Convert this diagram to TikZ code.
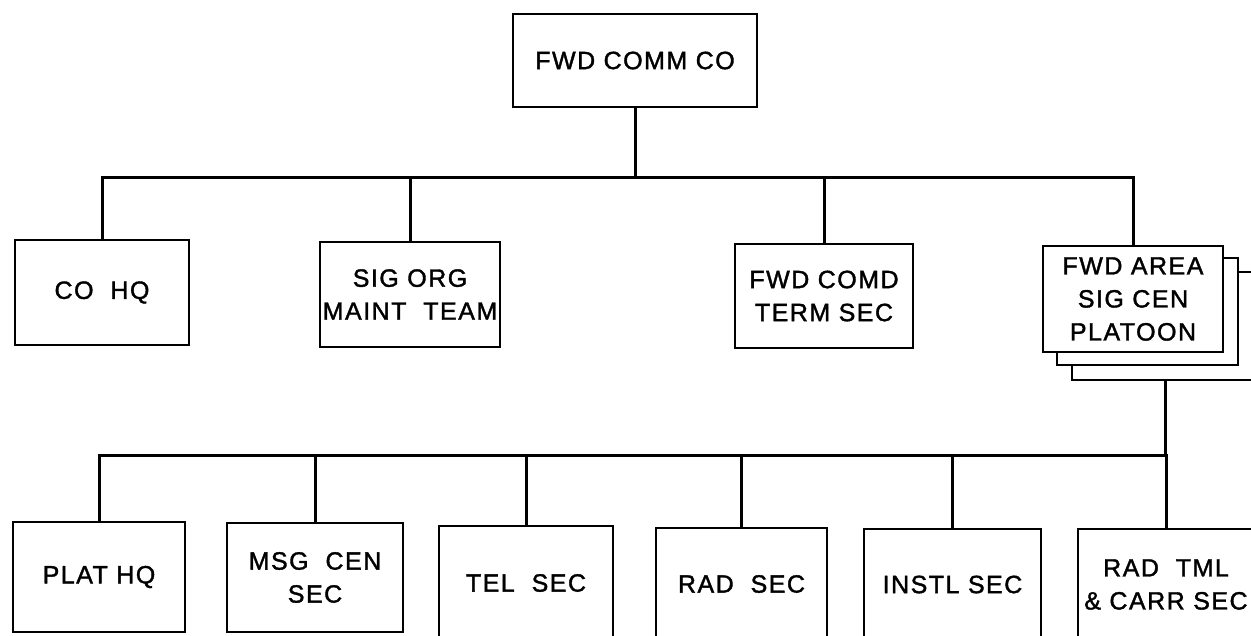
\documentclass[tikz,border=0pt]{standalone}
\usepackage{fontspec}
\setmainfont{Liberation Sans}[LetterSpace=6, FakeBold=1.5]
\usetikzlibrary{positioning,calc}

\begin{document}
\begin{tikzpicture}[x=1pt, y=-1pt,
    unit/.style={rectangle, draw, line width=1.5pt, fill=white, inner sep=0pt, align=center, font=\fontsize{25}{33}\selectfont},
    link/.style={line width=3pt}]
    \clip (0,0) rectangle (1251,635);
    \coordinate (bus1) at (0,177);
    \coordinate (bus2) at (0,455);

    % company
    \node[unit, minimum width=244pt, minimum height=93pt] (comm) at (635,60.5) {FWD COMM CO};

    % sections under the company
    \node[unit, minimum width=174pt, minimum height=105pt] (cohq) at (102,292.5) {CO~~HQ};
    \node[unit, minimum width=180pt, minimum height=105pt] (sigorg) at (410,294.5) {SIG ORG\\MAINT~~TEAM};
    \node[unit, minimum width=178pt, minimum height=104pt] (comd) at (824,296) {FWD COMD\\TERM SEC};
    \node[unit, minimum width=186pt, minimum height=108pt] (area3) at (1165,326) {};
    \node[unit, minimum width=181pt, minimum height=107pt] (area2) at (1147.5,311.5) {};
    \node[unit, minimum width=180pt, minimum height=106pt] (area) at (1133,299) {FWD AREA\\SIG CEN\\PLATOON};

    % sections under the platoon
    \node[unit, minimum width=172pt, minimum height=110pt] (plat) at (99,577) {PLAT HQ};
    \node[unit, minimum width=176pt, minimum height=109pt] (msg) at (315,577.5) {MSG~~CEN\\SEC};
    \node[unit, minimum width=174pt, minimum height=114pt] (tel) at (526,583) {TEL~~SEC};
    \node[unit, minimum width=171pt, minimum height=112pt] (rad) at (741.5,584) {RAD~~SEC};
    \node[unit, minimum width=177pt, minimum height=111pt] (instl) at (952.5,584.5) {INSTL SEC};
    \node[unit, minimum width=176pt, minimum height=111pt] (radtml) at (1166,584.5) {RAD~~TML\\\& CARR SEC};

    \draw[link] (comm.south) -- (comm.south |- bus1);
    \draw[link] (cohq.north) |- (area.north |- bus1) -- (area.north);
    \foreach \n in {sigorg,comd}
        \draw[link] (\n.north) -- (\n.north |- bus1);

    \draw[link] (area3.south) -- (area3.south |- bus2);
    \draw[link] (plat.north) |- (radtml.north |- bus2) -- (radtml.north);
    \foreach \n in {msg,tel,rad,instl}
        \draw[link] (\n.north) -- (\n.north |- bus2);
\end{tikzpicture}
\end{document}
